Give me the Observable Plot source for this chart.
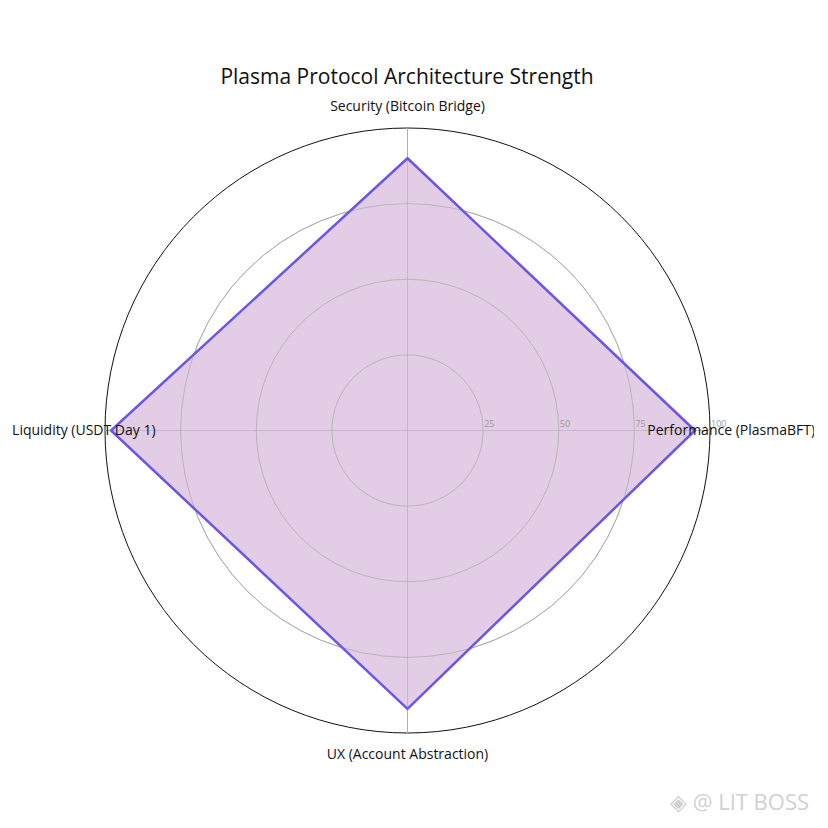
<!DOCTYPE html>
<html><head><meta charset="utf-8">
<script src="https://cdn.jsdelivr.net/npm/d3@7"></script>
<script src="https://cdn.jsdelivr.net/npm/@observablehq/plot@0.6"></script>
<style>
body{margin:0;background:#fff;font-family:"Open Sans",Roboto,sans-serif;}
#wrap{position:relative;width:828px;height:828px;}
#title{padding-top:63px;height:26px;line-height:26px;font-size:21px;text-align:center;color:#111;width:814px;}
#wm{position:absolute;left:670px;top:786px;font-size:22px;color:#d0d0d0;font-family:"Open Sans",sans-serif;white-space:nowrap;}
</style></head>
<body><div id="wrap"><div id="title">Plasma Protocol Architecture Strength</div><div id="chart"></div><div id="wm">◈ @ LIT BOSS</div></div>
<script>
const categories = ["Security (Bitcoin Bridge)", "Performance (PlasmaBFT)", "UX (Account Abstraction)", "Liquidity (USDT Day 1)"];
const values = [90, 95, 92, 98];
const gridLevels = [25, 50, 75, 100];
const tickLabels = ["25", "50", "75", "100"];

const n = categories.length;
const ang = i => Math.PI / 2 - i * 2 * Math.PI / n;
const pts = categories.map((c, i) => ({c, v: values[i], x: values[i] * Math.cos(ang(i)), y: values[i] * Math.sin(ang(i))}));
const axes = categories.map((c, i) => ({c, x: 100 * Math.cos(ang(i)), y: 100 * Math.sin(ang(i)), lx: 107 * Math.cos(ang(i)), ly: 107 * Math.sin(ang(i))}));
const rings = gridLevels.map(g => ({g}));
const ticks = gridLevels.map((g, i) => ({g, t: tickLabels[i]}));

const R = 302.5, cx = 407, cy = 341, W = 814, H = 739;
const plot = Plot.plot({
  width: W, height: H,
  marginLeft: cx - R, marginRight: W - (cx + R),
  marginTop: cy - R, marginBottom: H - (cy + R),
  x: {domain: [-100, 100], axis: null},
  y: {domain: [-100, 100], axis: null},
  r: {type: "linear", domain: [0, 100], range: [0, R]},
  style: {fontFamily: "'Open Sans', Roboto, sans-serif", background: "transparent"},
  marks: [
    Plot.dot(rings, {x: () => 0, y: () => 0, r: "g", fill: "none", stroke: d => d.g === 100 ? "#111" : "#b4b4b4", strokeWidth: 1}),
    Plot.link(axes, {x1: () => 0, y1: () => 0, x2: "x", y2: "y", stroke: "#b4b4b4", strokeWidth: 1}),
    Plot.line(pts, {x: "x", y: "y", curve: "linear-closed", fill: "#e3cce5", fillOpacity: 1, stroke: "none"}),
    Plot.link(axes, {x1: () => 0, y1: () => 0, x2: "x", y2: "y", stroke: "#b4a4c0", strokeWidth: 1, strokeOpacity: 0.6}),
    Plot.dot(rings.filter(d => d.g < 100), {x: () => 0, y: () => 0, r: "g", fill: "none", stroke: "#aaa", strokeWidth: 1, strokeOpacity: 0.7}),
    Plot.line(pts, {x: "x", y: "y", curve: "linear-closed", stroke: "#6b57e6", strokeWidth: 2.5}),
    Plot.text(ticks, {x: "g", y: () => 0, text: "t", textAnchor: "start", dx: 1, dy: -6, fontSize: 9, fill: "#999"}),
    Plot.text(axes, {x: "lx", y: "ly", text: "c", fontSize: 14, fill: "#111"})
  ]
});
document.getElementById("chart").appendChild(plot);
</script></body></html>
